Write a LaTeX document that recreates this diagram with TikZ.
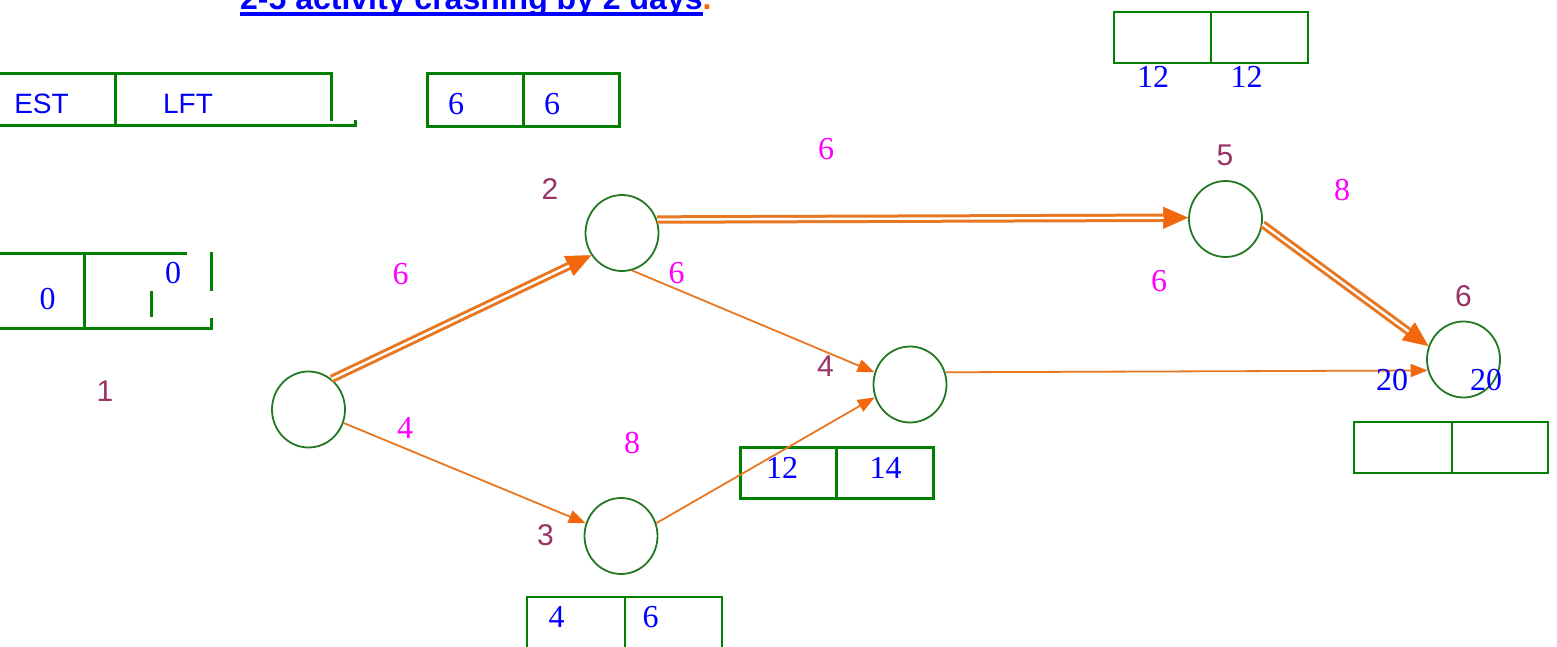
\documentclass[tikz,border=0pt]{standalone}
\usepackage{fontspec}
\setmainfont{Liberation Serif}
\newfontfamily\arialf{Liberation Sans}
\usetikzlibrary{arrows.meta,shapes.geometric}
\definecolor{boxgreen}{RGB}{0,128,0}
\definecolor{circgreen}{RGB}{35,120,35}
\definecolor{lineor}{RGB}{232,119,34}
\definecolor{tipor}{RGB}{242,102,12}
\definecolor{purp}{RGB}{153,51,102}
\definecolor{pinkc}{RGB}{255,0,255}
\definecolor{bluec}{RGB}{0,0,255}
\definecolor{dotor}{RGB}{255,102,0}
\begin{document}
\begin{tikzpicture}[x=1pt,y=-1pt,
 event/.style={ellipse, draw=circgreen, line width=1.8pt, minimum width=73pt, minimum height=76pt, inner sep=0pt},
 evlabel/.style={text=purp, font=\arialf\fontsize{30}{30}\selectfont, inner sep=0pt},
 dur/.style={text=pinkc, font=\fontsize{32}{32}\selectfont, inner sep=0pt},
 tval/.style={text=bluec, font=\fontsize{32}{32}\selectfont, inner sep=0pt},
 hdr/.style={text=bluec, font=\arialf\fontsize{28}{28}\selectfont, inner sep=0pt},
 thickbox/.style={draw=boxgreen, line width=3pt},
 thinbox/.style={draw=boxgreen, line width=2pt},
 act/.style={draw=lineor, line width=1.8pt, -{Triangle[length=17pt,width=13pt,color=tipor]}},
 crittip/.style={draw=lineor, line width=0.4pt, -{Triangle[length=25pt,width=22pt,color=tipor]}},
 crit/.style={draw=lineor, line width=3pt, double=white, double distance=2.4pt, shorten >=24.5pt},
]
\clip (0,0) rectangle (1557,647);
\fill[white] (0,0) rectangle (1557,647);

% title
\node[anchor=base west, inner sep=0pt, font=\arialf\bfseries\fontsize{32}{32}\selectfont] (title) at (240,10)
  {\textcolor{bluec}{2-5 activity crashing by 2 days}\textcolor{dotor}{.}};
\fill[bluec] (240,12) rectangle (703,16);

% boxes
\draw[thickbox] (0,74) -- (331,74) -- (331,121);
\draw[thickbox] (0,126) -- (355,126) -- (355,120);
\draw[thickbox] (115,74) -- (115,126);
\draw[thickbox] (427,74) rectangle (619,127);
\draw[thickbox] (523,74) -- (523,127);
\draw[thickbox] (0,253) -- (187,253);
\draw[thickbox] (211,252) -- (211,291);
\draw[thickbox] (84,253) -- (84,328);
\draw[thickbox] (0,328) -- (211,328) -- (211,318);
\draw[thickbox] (151,291) -- (151,317);
\draw[thinbox] (1114,12) rectangle (1308,63);
\draw[thinbox] (1211,12) -- (1211,63);
\draw[thickbox] (740,447) rectangle (933,498);
\draw[thickbox] (836,447) -- (836,498);
\draw[thinbox] (527,597) rectangle (722,650);
\draw[thinbox] (625,597) -- (625,650);
\draw[thinbox] (1354,422) rectangle (1548,473);
\draw[thinbox] (1452,422) -- (1452,473);

% events
\node[event] (n1) at (308.5,409.5) {};
\node[event] (n2) at (622,233) {};
\node[event] (n3) at (621,536) {};
\node[event] (n4) at (910,384.5) {};
\node[event] (n5) at (1225.5,219) {};
\node[event] (n6) at (1463.5,359.5) {};

% activities
\draw[act] (n1.339) -- (n3.160);
\draw[act] (n2.285) -- (n4.161);
\draw[act] (n3.20) -- (n4.200);
\draw[act] (n4.19) -- (n6.197);
\draw[crittip] (n1.53) -- (n2.216);
\draw[crit] (n1.53) -- (n2.216);
\draw[crittip] (n2.21) -- (n5.178);
\draw[crit] (n2.21) -- (n5.178);
\draw[crittip] (n5.352) -- (n6.159);
\draw[crit] (n5.352) -- (n6.159);

% header texts
\node[hdr] (est) at (41.5,104) {EST};
\node[hdr] (lft) at (188,104) {LFT};

% event labels
\node[evlabel] (l1) at (105,391.5) {1};
\node[evlabel] (l2) at (550,189) {2};
\node[evlabel] (l3) at (545.5,535.5) {3};
\node[evlabel] (l4) at (825.5,366) {4};
\node[evlabel] (l5) at (1225,155.5) {5};
\node[evlabel] (l6) at (1463.5,296) {6};

% durations
\node[dur] (d12) at (400.5,274) {6};
\node[dur] (d13) at (405,428) {4};
\node[dur] (d24) at (676.5,273) {6};
\node[dur] (d34) at (632,443.5) {8};
\node[dur] (d25) at (826,149) {6};
\node[dur] (d46) at (1159,281) {6};
\node[dur] (d56) at (1342,190.5) {8};

% times
\node[tval] (tA1) at (456,104) {6};
\node[tval] (tA2) at (552,104) {6};
\node[tval] (t1a) at (47.5,299) {0};
\node[tval] (t1b) at (173,273.5) {0};
\node[tval] (t5a) at (1153,77) {12};
\node[tval] (t5b) at (1246.5,77) {12};
\node[tval] (t4a) at (782,467.5) {12};
\node[tval] (t4b) at (885.5,467.5) {14};
\node[tval] (t3a) at (556.5,617) {4};
\node[tval] (t3b) at (650.5,617) {6};
\node[tval] (t6a) at (1392,380.5) {20};
\node[tval] (t6b) at (1486,380.5) {20};
\end{tikzpicture}
\end{document}
